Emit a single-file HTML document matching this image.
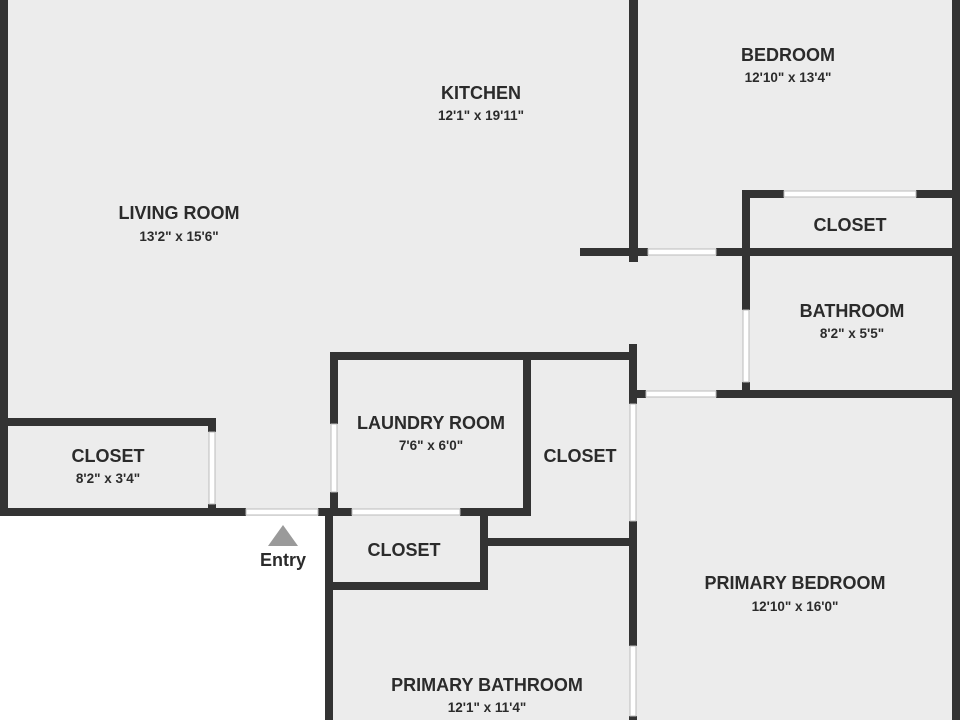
<!DOCTYPE html>
<html><head><style>
html,body{margin:0;padding:0;background:#fff;}
svg{display:block;}
text{font-family:"Liberation Sans",sans-serif;font-weight:bold;fill:#2b2b2b;text-anchor:middle;}
.t{font-size:18px;}
.d{font-size:13.5px;}
</style></head><body>
<svg width="960" height="720" viewBox="0 0 960 720" xmlns="http://www.w3.org/2000/svg">
<rect x="0" y="0" width="960" height="720" fill="#ececec"/>
<rect x="0" y="516" width="326" height="204" fill="#fff"/>
<g fill="#333">
<!-- left outer -->
<rect x="0" y="0" width="8" height="516"/>
<!-- left closet -->
<rect x="0" y="418" width="216" height="8"/>
<rect x="208" y="418" width="8" height="14"/>
<rect x="208" y="504" width="8" height="12"/>
<rect x="0" y="508" width="246" height="8"/>
<rect x="318" y="508" width="34" height="8"/>
<!-- laundry -->
<rect x="330" y="352" width="8" height="72"/>
<rect x="330" y="492" width="8" height="24"/>
<rect x="330" y="352" width="302" height="8"/>
<rect x="523" y="352" width="8" height="164"/>
<rect x="460" y="508" width="71" height="8"/>
<!-- lower closet -->
<rect x="325" y="508" width="8" height="212"/>
<rect x="325" y="582" width="163" height="8"/>
<rect x="480" y="508" width="8" height="82"/>
<rect x="488" y="538" width="149" height="8"/>
<!-- central vertical -->
<rect x="629" y="0" width="9" height="262"/>
<rect x="629" y="344" width="8" height="60"/>
<rect x="629" y="521" width="8" height="125"/>
<rect x="629" y="716" width="8" height="4"/>
<!-- horizontal y 248 -->
<rect x="580" y="248" width="68" height="8"/>
<rect x="716" y="248" width="244" height="8"/>
<!-- right closet / bath -->
<rect x="742" y="190" width="8" height="120"/>
<rect x="742" y="382" width="8" height="16"/>
<rect x="742" y="190" width="42" height="8"/>
<rect x="916" y="190" width="44" height="8"/>
<rect x="632" y="390" width="14" height="8"/>
<rect x="716" y="390" width="244" height="8"/>
<!-- right outer -->
<rect x="952" y="0" width="8" height="720"/>
</g>
<g fill="#fff" stroke="#bbb" stroke-width="1">
<rect x="209" y="432" width="6" height="72"/>
<rect x="246" y="509" width="72" height="6"/>
<rect x="331" y="424" width="6" height="68"/>
<rect x="352" y="509" width="108" height="6"/>
<rect x="630" y="404" width="6" height="117"/>
<rect x="630" y="646" width="6" height="70"/>
<rect x="648" y="249" width="68" height="6"/>
<rect x="784" y="191" width="132" height="6"/>
<rect x="743" y="310" width="6" height="72"/>
<rect x="646" y="391" width="70" height="6"/>
</g>
<polygon points="283,525 298,546 268,546" fill="#9a9a9a"/>
<text class="t" x="283" y="566">Entry</text>
<text class="t" x="481" y="99">KITCHEN</text><text class="d" x="481" y="120">12'1" x 19'11"</text>
<text class="t" x="788" y="61">BEDROOM</text><text class="d" x="788" y="82">12'10" x 13'4"</text>
<text class="t" x="179" y="219">LIVING ROOM</text><text class="d" x="179" y="241">13'2" x 15'6"</text>
<text class="t" x="850" y="231">CLOSET</text>
<text class="t" x="852" y="317">BATHROOM</text><text class="d" x="852" y="338">8'2" x 5'5"</text>
<text class="t" x="431" y="429">LAUNDRY ROOM</text><text class="d" x="431" y="450">7'6" x 6'0"</text>
<text class="t" x="108" y="462">CLOSET</text><text class="d" x="108" y="483">8'2" x 3'4"</text>
<text class="t" x="580" y="462">CLOSET</text>
<text class="t" x="404" y="556">CLOSET</text>
<text class="t" x="795" y="589">PRIMARY BEDROOM</text><text class="d" x="795" y="611">12'10" x 16'0"</text>
<text class="t" x="487" y="691">PRIMARY BATHROOM</text><text class="d" x="487" y="712">12'1" x 11'4"</text>
</svg>
</body></html>
